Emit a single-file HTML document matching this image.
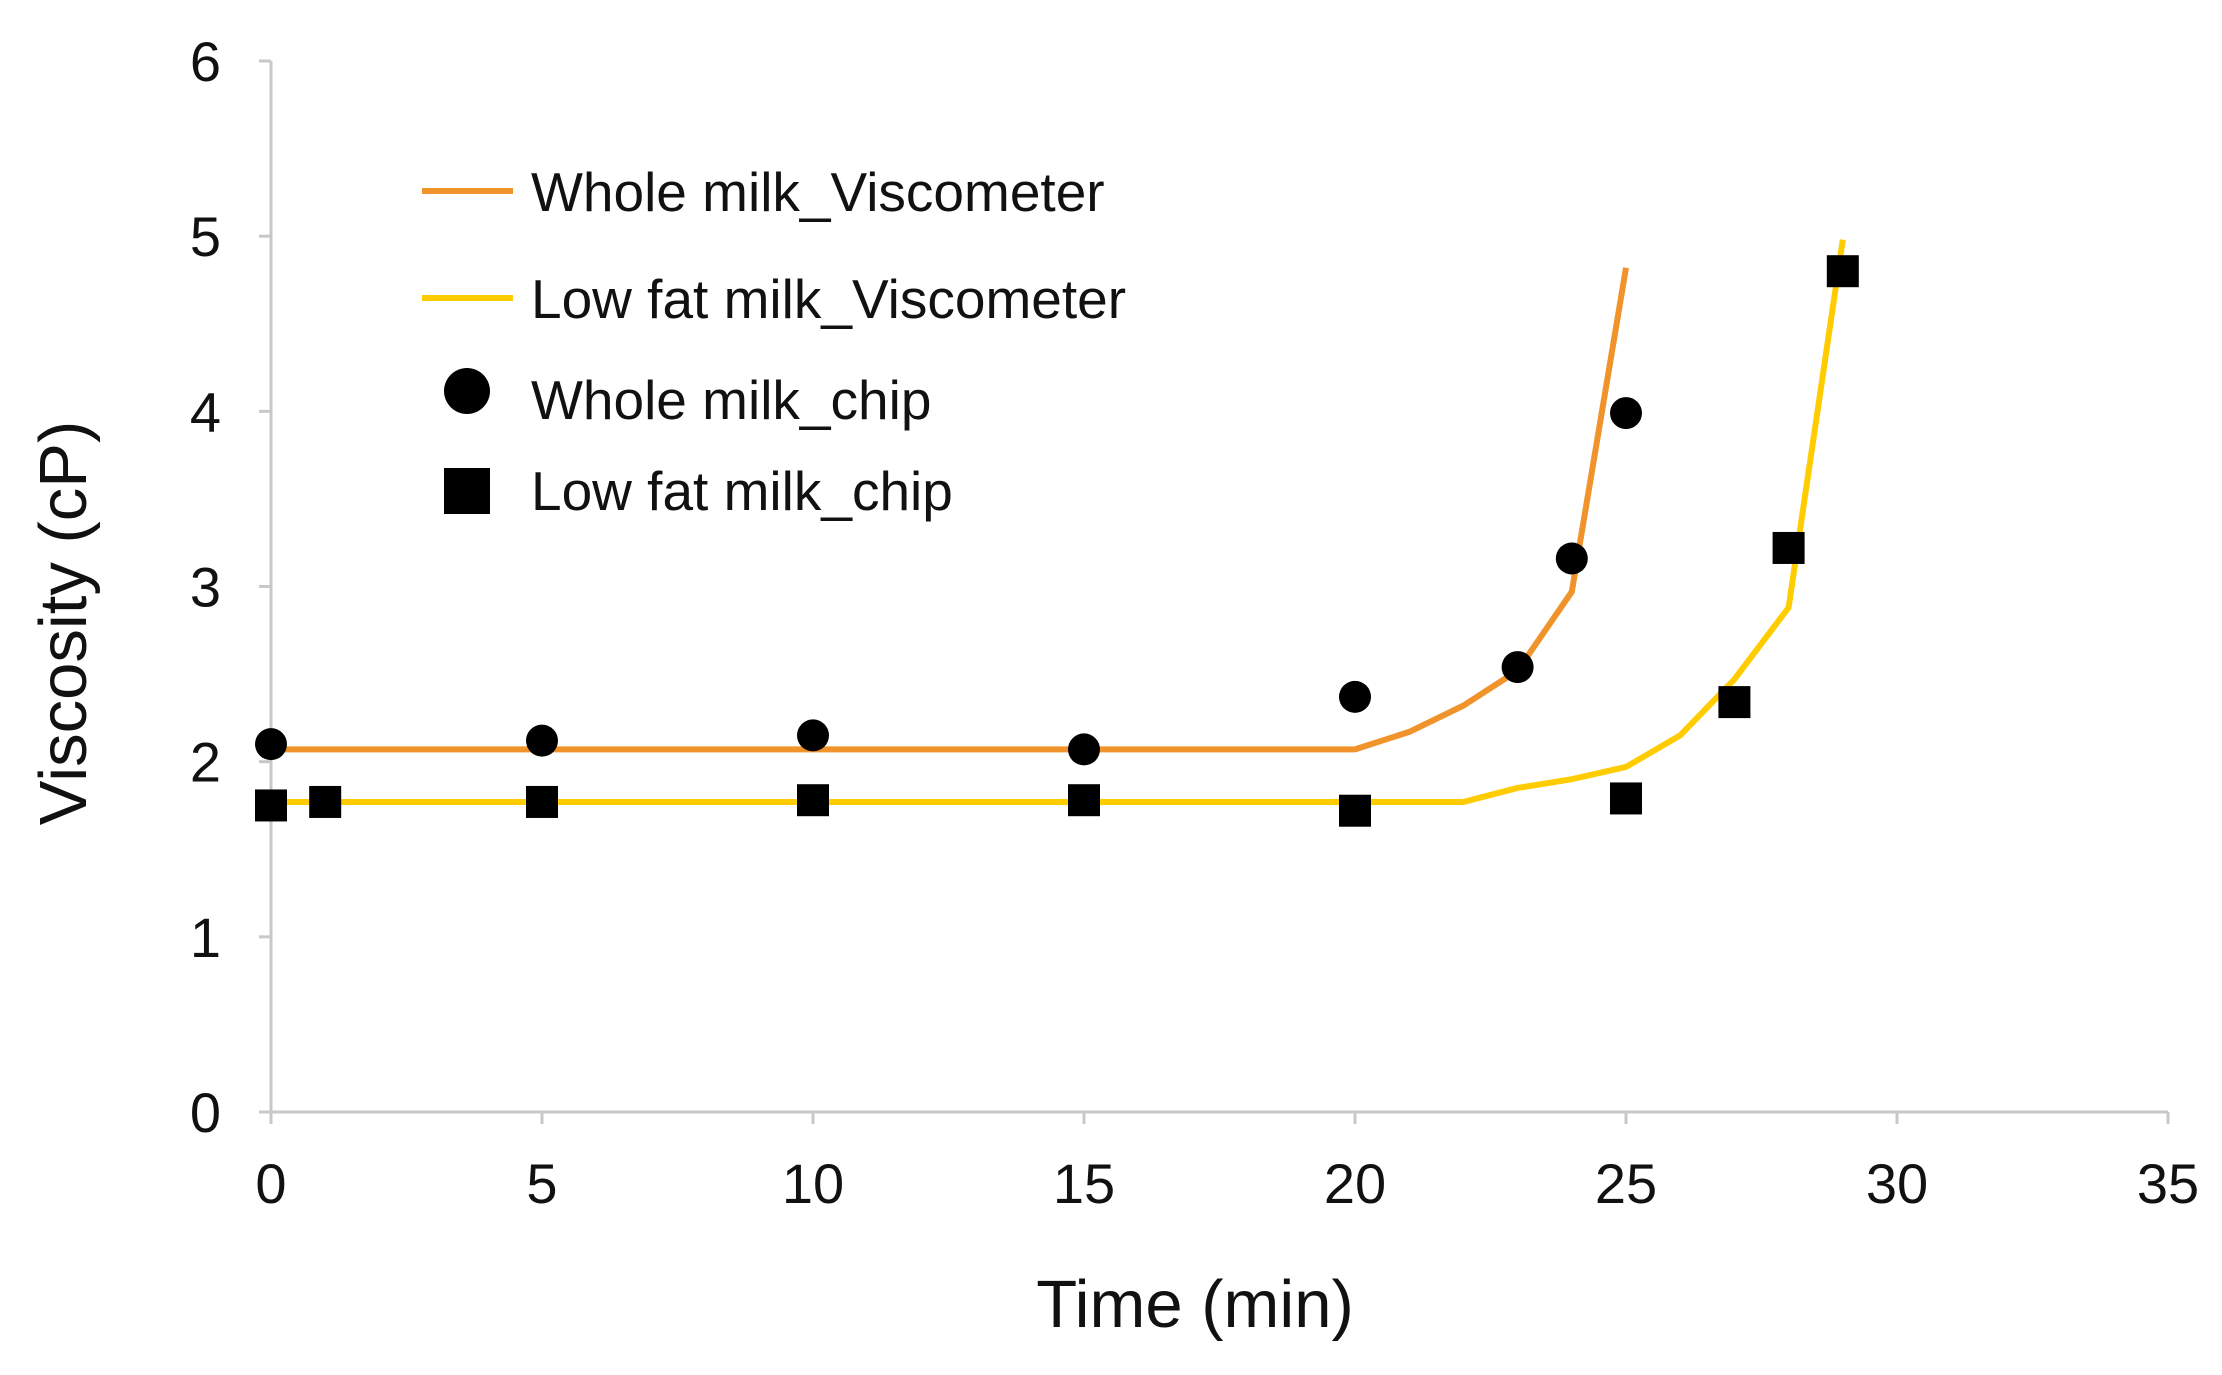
<!DOCTYPE html>
<html><head><meta charset="utf-8"><style>
html,body{margin:0;padding:0;background:#fff;}
svg{display:block;font-family:"Liberation Sans",Arial,sans-serif;}
</style></head><body>
<svg id="chart" width="2222" height="1375" viewBox="0 0 2222 1375" xmlns="http://www.w3.org/2000/svg">
<g id="axes"></g>
<g id="series"></g>
<g id="legend">
  <line x1="422" y1="191" x2="513" y2="191" stroke="#f0932b" stroke-width="6"/>
  <text x="531" y="211" font-size="55" fill="#111">Whole milk_Viscometer</text>
  <line x1="422" y1="298" x2="513" y2="298" stroke="#ffcc00" stroke-width="6"/>
  <text x="531" y="318" font-size="55" fill="#111">Low fat milk_Viscometer</text>
  <circle cx="467" cy="391" r="23" fill="#000"/>
  <text x="531" y="419" font-size="55" fill="#111">Whole milk_chip</text>
  <rect x="444" y="468" width="46" height="46" fill="#000"/>
  <text x="531" y="510" font-size="55" fill="#111">Low fat milk_chip</text>
</g>
<text x="1195" y="1327" font-size="67" text-anchor="middle" fill="#111">Time (min)</text>
<text transform="translate(86,623) rotate(-90)" font-size="67" text-anchor="middle" fill="#111">Viscosity (cP)</text>
</svg>
<script>
const xTicks=[0,5,10,15,20,25,30,35];
const yTicks=[0,1,2,3,4,5,6];
const wholeLineX=[0,20,21,22,23,24,25];
const wholeLineY=[2.07,2.07,2.17,2.32,2.52,2.97,4.82];
const lowLineX=[0,22,23,24,25,26,27,28,29];
const lowLineY=[1.77,1.77,1.85,1.9,1.97,2.15,2.47,2.88,4.98];
const wholeChipX=[0,5,10,15,20,23,24,25];
const wholeChipY=[2.1,2.12,2.15,2.07,2.37,2.54,3.16,3.99];
const lowChipX=[0,1,5,10,15,20,25,27,28,29];
const lowChipY=[1.75,1.77,1.77,1.78,1.78,1.72,1.79,2.34,3.22,4.8];

const NS='http://www.w3.org/2000/svg';
const X0=271,X1=2168,Y0=1112,Y1=61;
function sx(v){return X0+(v-0)/(35-0)*(X1-X0);}
function sy(v){return Y0-(v-0)/(6-0)*(Y0-Y1);}
function mk(tag,attrs,parent){const e=document.createElementNS(NS,tag);for(const k in attrs)e.setAttribute(k,attrs[k]);parent.appendChild(e);return e;}
const axes=document.getElementById('axes');
const series=document.getElementById('series');

let a=mk('line',{x1:X0,y1:Y0,x2:X1,y2:Y0,stroke:'#c8c8c8','stroke-width':3},axes);


a=mk('line',{x1:X0,y1:Y0,x2:X0,y2:Y1,stroke:'#c8c8c8','stroke-width':3},axes);


xTicks.forEach(t=>{
  const l=mk('line',{x1:sx(t),y1:Y0,x2:sx(t),y2:Y0+12,stroke:'#c8c8c8','stroke-width':3},axes);
  
  
  const tx=mk('text',{x:sx(t),y:1203,'font-size':56,'text-anchor':'middle',fill:'#111'},axes);
  tx.textContent=t;
  
  
});
yTicks.forEach(t=>{
  const l=mk('line',{x1:X0-12,y1:sy(t),x2:X0,y2:sy(t),stroke:'#c8c8c8','stroke-width':3},axes);
  
  
  const tx=mk('text',{x:221,y:sy(t)+20,'font-size':56,'text-anchor':'end',fill:'#111'},axes);
  tx.textContent=t;
  
  
});
function line(xs,ys,color,name){
  const p=mk('polyline',{points:xs.map((x,i)=>sx(x)+','+sy(ys[i])).join(' '),fill:'none',stroke:color,'stroke-width':6,'stroke-linejoin':'round'},series);
  
  
}
line(wholeLineX,wholeLineY,'#f0932b','whole-milk-viscometer-line');
line(lowLineX,lowLineY,'#ffcc00','lowfat-milk-viscometer-line');
wholeChipX.forEach((x,i)=>{
  const c=mk('circle',{cx:sx(x),cy:sy(wholeChipY[i]),r:16,fill:'#000'},series);
  
  
});
lowChipX.forEach((x,i)=>{
  const r=mk('rect',{x:sx(x)-16,y:sy(lowChipY[i])-16,width:32,height:32,fill:'#000'},series);
  
  
});
</script>
</body></html>
